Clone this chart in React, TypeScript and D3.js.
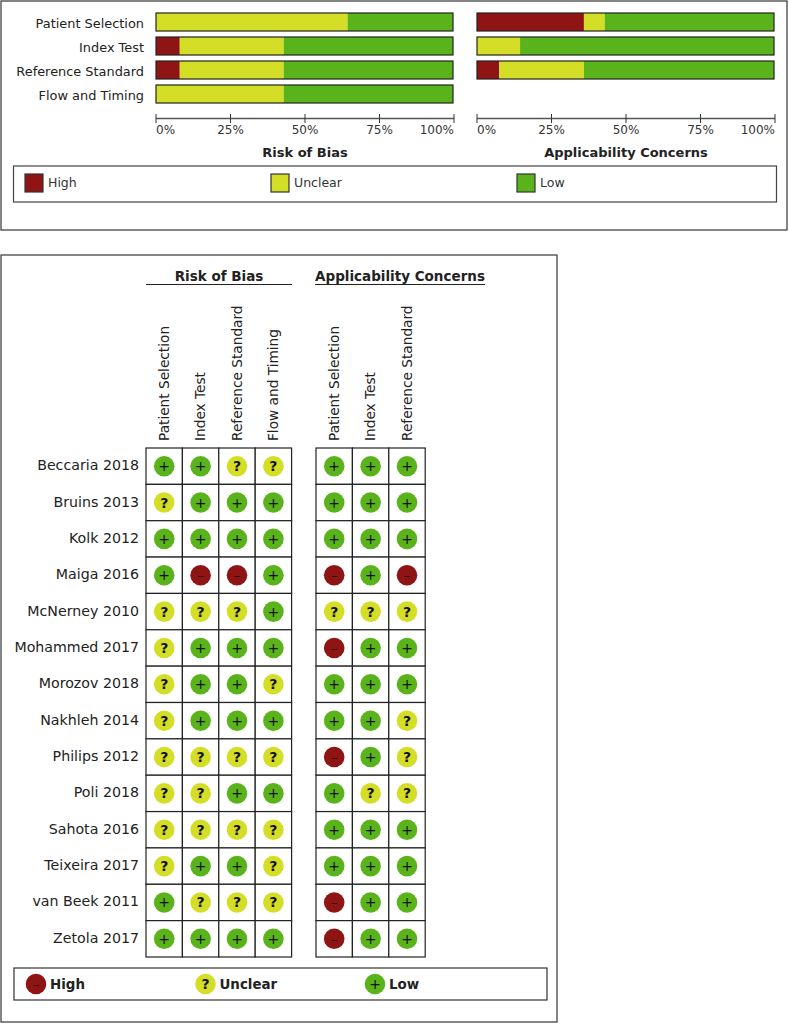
import React from "react";
import * as d3 from "d3";

const FONT = "'DejaVu Sans', sans-serif";

type Judgement = "high" | "unclear" | "low";

const JUDGEMENTS: Judgement[] = ["high", "unclear", "low"];
const LEGEND_LABELS = ["High", "Unclear", "Low"];
const COLORS: Record<Judgement, string> = { high: "#8f1414", unclear: "#d5de26", low: "#5bb31c" };
const SYMBOLS: Record<Judgement, string> = { high: "–", unclear: "?", low: "+" };

const robDomains = ["Patient Selection", "Index Test", "Reference Standard", "Flow and Timing"];
const acDomains = ["Patient Selection", "Index Test", "Reference Standard"];
const pctTicks = [0, 25, 50, 75, 100];

// bar lengths, in percent
const robHigh = [0, 8, 8, 0];
const robUnclear = [64.5, 35, 35, 43];
const robLow = [35.5, 57, 57, 57];
const acHigh = [36, 0, 7.5];
const acUnclear = [7, 14.5, 28.5];
const acLow = [57, 85.5, 64];

const studies = [
    "Beccaria 2018", "Bruins 2013", "Kolk 2012", "Maiga 2016", "McNerney 2010", "Mohammed 2017", "Morozov 2018",
    "Nakhleh 2014", "Philips 2012", "Poli 2018", "Sahota 2016", "Teixeira 2017", "van Beek 2011", "Zetola 2017",
];

// one string per study, one char per domain: + low, ? unclear, - high
const robGrid = [
    "++??", "?+++", "++++", "+--+", "???+", "?+++", "?++?",
    "?+++", "????", "??++", "????", "?++?", "+???", "++++",
];
const acGrid = [
    "+++", "+++", "+++", "-+-", "???", "-++", "+++",
    "++?", "-+?", "+??", "+++", "+++", "-++", "-++",
];

const charToJudgement = (c: string): Judgement => (c === "+" ? "low" : c === "?" ? "unclear" : "high");

function SummaryBars({ title, domains, high, unclear, low, x0, showLabels }: {
    title: string; domains: string[]; high: number[]; unclear: number[]; low: number[]; x0: number; showLabels: boolean;
}) {
    const x = d3.scaleLinear().domain([0, 100]).range([x0, x0 + 297]);
    const axisX = d3.scaleLinear().domain([0, 100]).range([x0, x0 + 298]);
    const y = d3.scaleBand().domain(robDomains).range([10, 106]).paddingInner(0.25).paddingOuter(0.125);
    const rows = domains.map((name, i) => ({ name, high: high[i], unclear: unclear[i], low: low[i] }));
    const series = d3.stack<any>().keys(JUDGEMENTS)(rows);
    return (
        <g>
            {series.map((s) => (
                <g key={s.key} fill={COLORS[s.key as Judgement]}>
                    {s.map((d) => (
                        <rect key={d.data.name} x={x(d[0])} width={x(d[1]) - x(d[0])} y={y(d.data.name)} height={y.bandwidth()} />
                    ))}
                </g>
            ))}
            {domains.map((name) => (
                <g key={name}>
                    <rect x={x(0)} y={y(name)} width={x(100) - x(0)} height={y.bandwidth()} fill="none" stroke="#222" strokeWidth={1.2} />
                    {showLabels && (
                        <text x={x0 - 12} y={(y(name) ?? 0) + y.bandwidth() / 2 + 6} textAnchor="end" fontSize={12.9} fill="#222">{name}</text>
                    )}
                </g>
            ))}
            <line x1={axisX(0)} x2={axisX(100)} y1={118.5} y2={118.5} stroke="#555" strokeWidth={1.5} />
            {pctTicks.map((t) => (
                <g key={t}>
                    <line x1={axisX(t)} x2={axisX(t)} y1={114} y2={123} stroke="#333" />
                    <text x={axisX(t)} y={134} fontSize={12} fill="#333"
                          textAnchor={t === 0 ? "start" : t === 100 ? "end" : "middle"}>{t}%</text>
                </g>
            ))}
            <text x={axisX(50)} y={157} textAnchor="middle" fontSize={13} fontWeight="bold" fill="#222">{title}</text>
        </g>
    );
}

function Dot({ cx, cy, j, r = 10.3 }: { cx: number; cy: number; j: Judgement; r?: number }) {
    return (
        <g>
            <circle cx={cx} cy={cy} r={r} fill={COLORS[j]} />
            <text x={cx} y={cy + 5} textAnchor="middle" fontSize={14} fontWeight={j === "unclear" ? "bold" : "normal"} fill={j === "high" ? "#3a0808" : "#111"}>
                {SYMBOLS[j]}
            </text>
        </g>
    );
}

function JudgementGrid({ title, domains, grid, x0, titleX0, titleX1 }: {
    title: string; domains: string[]; grid: string[]; x0: number; titleX0: number; titleX1: number;
}) {
    const x = d3.scaleBand().domain(domains).range([x0, x0 + domains.length * 36.4]);
    const y = d3.scaleBand().domain(studies).range([448, 957]);
    return (
        <g>
            <text x={(titleX0 + titleX1) / 2} y={281} textAnchor="middle" fontSize={13.5} fontWeight="bold" fill="#222">{title}</text>
            <line x1={titleX0} x2={titleX1} y1={284.5} y2={284.5} stroke="#222" strokeWidth={1.2} />
            {domains.map((name) => (
                <text key={name} transform={`translate(${(x(name) ?? 0) + x.bandwidth() / 2 + 4.5},441) rotate(-90)`} fontSize={13.7} fill="#222">{name}</text>
            ))}
            {studies.map((study, r) =>
                domains.map((name, c) => {
                    const cx = (x(name) ?? 0) + x.bandwidth() / 2;
                    const cy = (y(study) ?? 0) + y.bandwidth() / 2;
                    return (
                        <g key={name}>
                            <rect x={x(name)} y={y(study)} width={x.bandwidth()} height={y.bandwidth()} fill="#fff" stroke="#222" strokeWidth={1.2} />
                            <Dot cx={cx} cy={cy} j={charToJudgement(grid[r][c])} />
                        </g>
                    );
                })
            )}
        </g>
    );
}

export default function App() {
    const rowY = d3.scaleBand().domain(studies).range([448, 957]);
    const swatchX = d3.scalePoint().domain(JUDGEMENTS).range([25, 517]);
    const dotX = d3.scalePoint().domain(JUDGEMENTS).range([36, 375]);
    return (
        <svg width={789} height={1025} style={{ position: "absolute", left: 0, top: 0, display: "block" }} fontFamily={FONT}>
            <rect x={1} y={1} width={786} height={229} fill="#fff" stroke="#444" strokeWidth={1.3} />
            <SummaryBars title="Risk of Bias" domains={robDomains} high={robHigh} unclear={robUnclear} low={robLow} x0={156} showLabels />
            <SummaryBars title="Applicability Concerns" domains={acDomains} high={acHigh} unclear={acUnclear} low={acLow} x0={477} showLabels={false} />
            <rect x={13.5} y={166} width={763} height={36} fill="#fff" stroke="#444" strokeWidth={1.2} />
            {JUDGEMENTS.map((j, i) => (
                <g key={j}>
                    <rect x={swatchX(j)} y={174} width={18} height={18} fill={COLORS[j]} stroke="#333" strokeWidth={1.2} />
                    <text x={(swatchX(j) ?? 0) + 23} y={187} fontSize={12.5} fill="#333">{LEGEND_LABELS[i]}</text>
                </g>
            ))}

            <rect x={1} y={255} width={556} height={767} fill="#fff" stroke="#444" strokeWidth={1.3} />
            <JudgementGrid title="Risk of Bias" domains={robDomains} grid={robGrid} x0={146} titleX0={146} titleX1={292} />
            <JudgementGrid title="Applicability Concerns" domains={acDomains} grid={acGrid} x0={316} titleX0={315} titleX1={485} />
            {studies.map((study) => (
                <text key={study} x={139} y={(rowY(study) ?? 0) + rowY.bandwidth() / 2 + 4} textAnchor="end" fontSize={14.2} fill="#222">{study}</text>
            ))}
            <rect x={14} y={968} width={533} height={32} fill="#fff" stroke="#333" strokeWidth={1.2} />
            {JUDGEMENTS.map((j, i) => (
                <g key={j}>
                    <Dot cx={dotX(j) ?? 0} cy={984} j={j} />
                    <text x={(dotX(j) ?? 0) + 14} y={988.5} fontSize={13.4} fontWeight="bold" fill="#222">{LEGEND_LABELS[i]}</text>
                </g>
            ))}
        </svg>
    );
}
